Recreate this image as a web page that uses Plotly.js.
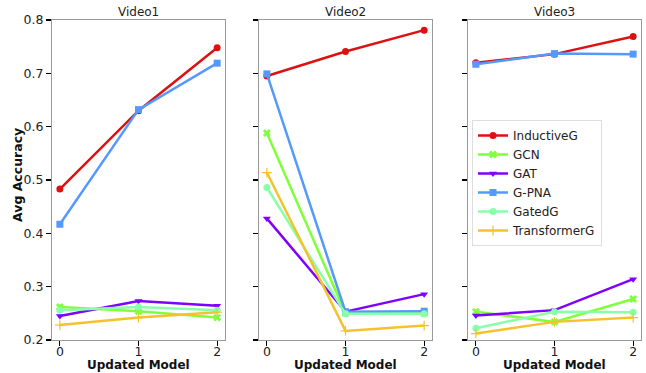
<!DOCTYPE html>
<html><head><meta charset="utf-8">
<script src="https://cdn.plot.ly/plotly-3.0.1.min.js"></script>
<style>html,body{margin:0;padding:0;background:#fff}#c{width:646px;height:373px}</style>
</head><body><div id="c"></div>
<script>
const panels = ["Video1", "Video2", "Video3"];
const xs = [0, 1, 2];
const seriesNames = ["InductiveG", "GCN", "GAT", "G-PNA", "GatedG", "TransformerG"];
// values per panel [Video1, Video2, Video3]
const inductiveG   = [[0.483, 0.630, 0.748], [0.695, 0.741, 0.781], [0.720, 0.736, 0.769]];
const gcn          = [[0.262, 0.254, 0.242], [0.588, 0.250, 0.250], [0.253, 0.234, 0.277]];
const gat          = [[0.245, 0.273, 0.264], [0.428, 0.253, 0.286], [0.246, 0.256, 0.314]];
const gpna         = [[0.417, 0.632, 0.719], [0.699, 0.253, 0.254], [0.717, 0.737, 0.736]];
const gatedG       = [[0.256, 0.262, 0.256], [0.486, 0.249, 0.249], [0.222, 0.253, 0.252]];
const transformerG = [[0.228, 0.242, 0.252], [0.514, 0.217, 0.227], [0.212, 0.234, 0.242]];
const allSeries = [inductiveG, gcn, gat, gpna, gatedG, transformerG];
const colors = ["#dd1111", "#80ff3a", "#8000ff", "#5599ff", "#88ffa8", "#f5c22e"];
const symbols = ["circle", "x", "triangle-down", "square", "circle", "cross-thin"];

const W = 646, H = 373;
const xDom = [[52, 225], [259, 432], [468, 641]];
const yTop = 20, yBot = 340;
const font = "DejaVu Sans, sans-serif";

const traces = [];
panels.forEach((p, pi) => {
  allSeries.forEach((s, si) => {
    traces.push({
      x: xs, y: s[pi], type: "scatter", mode: "lines+markers",
      name: seriesNames[si], legendgroup: seriesNames[si], showlegend: pi === 0,
      xaxis: pi === 0 ? "x" : "x" + (pi + 1), yaxis: pi === 0 ? "y" : "y" + (pi + 1),
      line: {color: colors[si], width: 2.5},
      marker: {color: colors[si], symbol: symbols[si], size: 7,
               line: {color: colors[si], width: symbols[si] === "cross-thin" ? 1.2 : 0}}
    });
  });
});

const layout = {
  width: W, height: H, margin: {l: 0, r: 0, t: 0, b: 0},
  paper_bgcolor: "#fff", plot_bgcolor: "#fff",
  font: {family: font, size: 12.5, color: "#222"},
  showlegend: true,
  legend: {x: 472 / W, y: 1 - 120 / H, xanchor: "left", yanchor: "top",
           bgcolor: "rgba(255,255,255,0.9)", bordercolor: "#dddddd", borderwidth: 1,
           font: {family: font, size: 12, color: "#222"}, tracegroupgap: 0},
  annotations: []
};
panels.forEach((p, pi) => {
  const sx = pi === 0 ? "" : String(pi + 1);
  layout["xaxis" + sx] = {
    domain: [xDom[pi][0] / W, xDom[pi][1] / W], anchor: "y" + sx,
    range: [-0.1, 2.1], tickvals: xs, ticktext: xs.map(String),
    ticks: "outside", ticklen: 5, tickwidth: 1.2, tickcolor: "#000",
    ticklabelstandoff: -5,
    showline: true, mirror: true, linecolor: "#999", linewidth: 1,
    showgrid: false, zeroline: false,
    tickfont: {family: font, size: 12.5, color: "#222"}
  };
  layout["yaxis" + sx] = {
    domain: [1 - yBot / H, 1 - yTop / H], anchor: "x" + sx,
    range: [0.2, 0.8], dtick: 0.1, tickformat: ".1f",
    showticklabels: pi === 0,
    ticks: "outside", ticklen: 5, tickwidth: 1.2, tickcolor: "#000",
    showline: true, mirror: true, linecolor: "#999", linewidth: 1,
    showgrid: false, zeroline: false,
    tickfont: {family: font, size: 12.5, color: "#222"}
  };
  const cx = (xDom[pi][0] + xDom[pi][1]) / 2 / W;
  layout.annotations.push({text: p, xref: "paper", yref: "paper", x: cx, y: 1 - 12 / H,
    showarrow: false, xanchor: "center", yanchor: "middle", font: {family: font, size: 12, color: "#222"}});
  layout.annotations.push({text: "<b>Updated Model</b>", xref: "paper", yref: "paper", x: cx, y: 0,
    showarrow: false, xanchor: "center", yanchor: "bottom", borderpad: 0, font: {family: font, size: 12, color: "#111"}});
});
layout.annotations.push({text: "<b>Avg Accuracy</b>", xref: "paper", yref: "paper", x: 17 / W, y: 1 - 175 / H,
  textangle: -90, showarrow: false, xanchor: "center", yanchor: "middle", font: {family: font, size: 12.5, color: "#111"}});

Plotly.newPlot("c", traces, layout, {displayModeBar: false, staticPlot: true});
</script></body></html>
